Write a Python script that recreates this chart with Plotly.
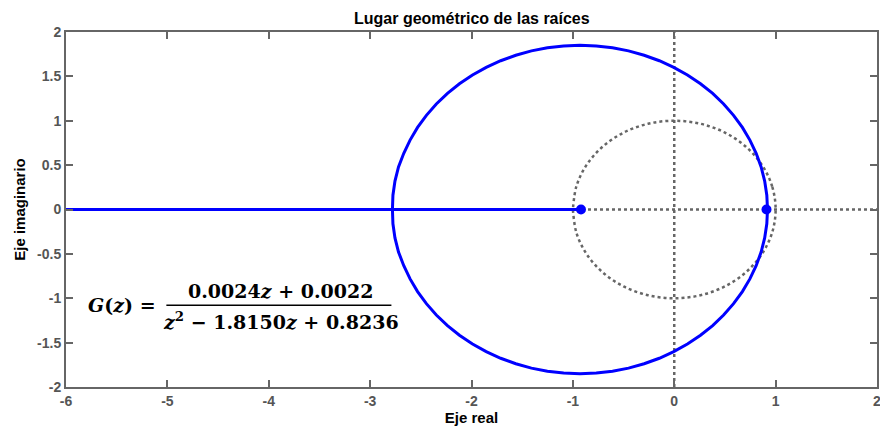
import plotly.graph_objects as go

# Upper branch of the root locus; lower branch is its conjugate
locus_re = [0.92, 0.913, 0.892, 0.857, 0.808, 0.746, 0.672, 0.585, 0.487, 0.379, 0.259,
            0.13, -0.005, -0.147, -0.297, -0.451, -0.609, -0.769, -0.93, -1.091,
            -1.251, -1.409, -1.563, -1.712, -1.855, -1.99, -2.119, -2.237, -2.347,
            -2.445, -2.532, -2.606, -2.668, -2.72, -2.755, -2.775, -2.78]
locus_im = [0.0, 0.161, 0.321, 0.479, 0.633, 0.782, 0.925, 1.061, 1.189, 1.308, 1.417,
            1.515, 1.602, 1.676, 1.738, 1.787, 1.822, 1.843, 1.85, 1.843,
            1.822, 1.787, 1.738, 1.676, 1.602, 1.515, 1.417, 1.308, 1.189,
            1.061, 0.925, 0.782, 0.633, 0.479, 0.321, 0.161, 0.0]
# Real-axis branch
axis_branch_re = [-6.0, -0.92]
axis_branch_im = [0.0, 0.0]
# Zero and pole markers
mark_re = [-0.92, 0.91]
mark_im = [0.0, 0.0]
# Unit circle (grid), read points
uc_re = [1.0, 0.966, 0.866, 0.707, 0.5, 0.259, 0.0, -0.259, -0.5, -0.707, -0.866, -0.966, -1.0]
uc_im = [0.0, 0.259, 0.5, 0.707, 0.866, 0.966, 1.0, 0.966, 0.866, 0.707, 0.5, 0.259, 0.0]

x_ticks = [-6, -5, -4, -3, -2, -1, 0, 1, 2]
y_ticks = [-2, -1.5, -1, -0.5, 0, 0.5, 1, 1.5, 2]

BLUE = "#0000FF"
GREY = "#666666"

fig = go.Figure()
# grid lines (dotted)
fig.add_trace(go.Scatter(x=uc_re + uc_re[::-1], y=uc_im + [-v for v in uc_im[::-1]],
                         mode="lines", line=dict(color=GREY, width=2.5, dash="dot", shape="spline"),
                         hoverinfo="skip", showlegend=False))
fig.add_trace(go.Scatter(x=[-6, 2], y=[0, 0], mode="lines",
                         line=dict(color=GREY, width=2.5, dash="dot"), showlegend=False))
fig.add_trace(go.Scatter(x=[0, 0], y=[-2, 2], mode="lines",
                         line=dict(color=GREY, width=2.5, dash="dot"), showlegend=False))
# locus
fig.add_trace(go.Scatter(x=locus_re, y=locus_im, mode="lines",
                         line=dict(color=BLUE, width=3), showlegend=False))
fig.add_trace(go.Scatter(x=locus_re, y=[-v for v in locus_im], mode="lines",
                         line=dict(color=BLUE, width=3), showlegend=False))
fig.add_trace(go.Scatter(x=axis_branch_re, y=axis_branch_im, mode="lines",
                         line=dict(color=BLUE, width=3), showlegend=False))
fig.add_trace(go.Scatter(x=mark_re, y=mark_im, mode="markers",
                         marker=dict(color=BLUE, size=10), showlegend=False))

tickfont = dict(family="Liberation Sans, Arial", size=14, color="#555555")
axis_common = dict(showline=True, mirror="ticks", linecolor=GREY, linewidth=2,
                   ticks="inside", ticklen=7, tickwidth=2, tickcolor=GREY,
                   showgrid=False, zeroline=False, tickfont=tickfont, automargin=False,
                   ticklabeloverflow="allow")

fig.update_layout(
    width=880, height=435,
    margin=dict(l=66, r=3, t=32, b=48),
    paper_bgcolor="white", plot_bgcolor="white",
    xaxis=dict(range=[-6, 2], tickvals=x_ticks, ticktext=["<b>%g</b>" % v for v in x_ticks],
               title=dict(text="<b>Eje real</b>", standoff=2,
                          font=dict(family="Liberation Sans, Arial", size=15, color="black")),
               **axis_common),
    yaxis=dict(range=[-2, 2], tickvals=y_ticks, ticktext=["<b>%g</b>" % v for v in y_ticks],
               title=dict(text="<b>Eje imaginario</b>", standoff=8,
                          font=dict(family="Liberation Sans, Arial", size=15, color="black")),
               **axis_common),
)

fig.add_annotation(x=0.5, y=1.0, xref="paper", yref="paper", yshift=14,
                   text="<b>Lugar geométrico de las raíces</b>", showarrow=False,
                   xanchor="center", yanchor="middle",
                   font=dict(family="Liberation Sans, Arial", size=16, color="black"))

mathfont = dict(family="DejaVu Serif, Liberation Serif", size=19, color="black")
fig.add_annotation(x=-5.45, y=-1.08, xref="x", yref="y", text="<b><i>G</i>(<i>z</i>) =</b>",
                   showarrow=False, font=mathfont, xanchor="center", yanchor="middle")
fig.add_annotation(x=-3.88, y=-0.92, xref="x", yref="y",
                   text="<b>0.0024<i>z</i> + 0.0022</b>",
                   showarrow=False, font=mathfont, xanchor="center", yanchor="middle")
fig.add_annotation(x=-3.88, y=-1.26, xref="x", yref="y",
                   text="<b><i>z</i><sup>2</sup> − 1.8150<i>z</i> + 0.8236</b>",
                   showarrow=False, font=mathfont, xanchor="center", yanchor="middle")
fig.add_shape(type="line", x0=-5.01, x1=-2.79, y0=-1.08, y1=-1.08, xref="x", yref="y",
              line=dict(color="black", width=1.5))

fig.write_html("out.html")
